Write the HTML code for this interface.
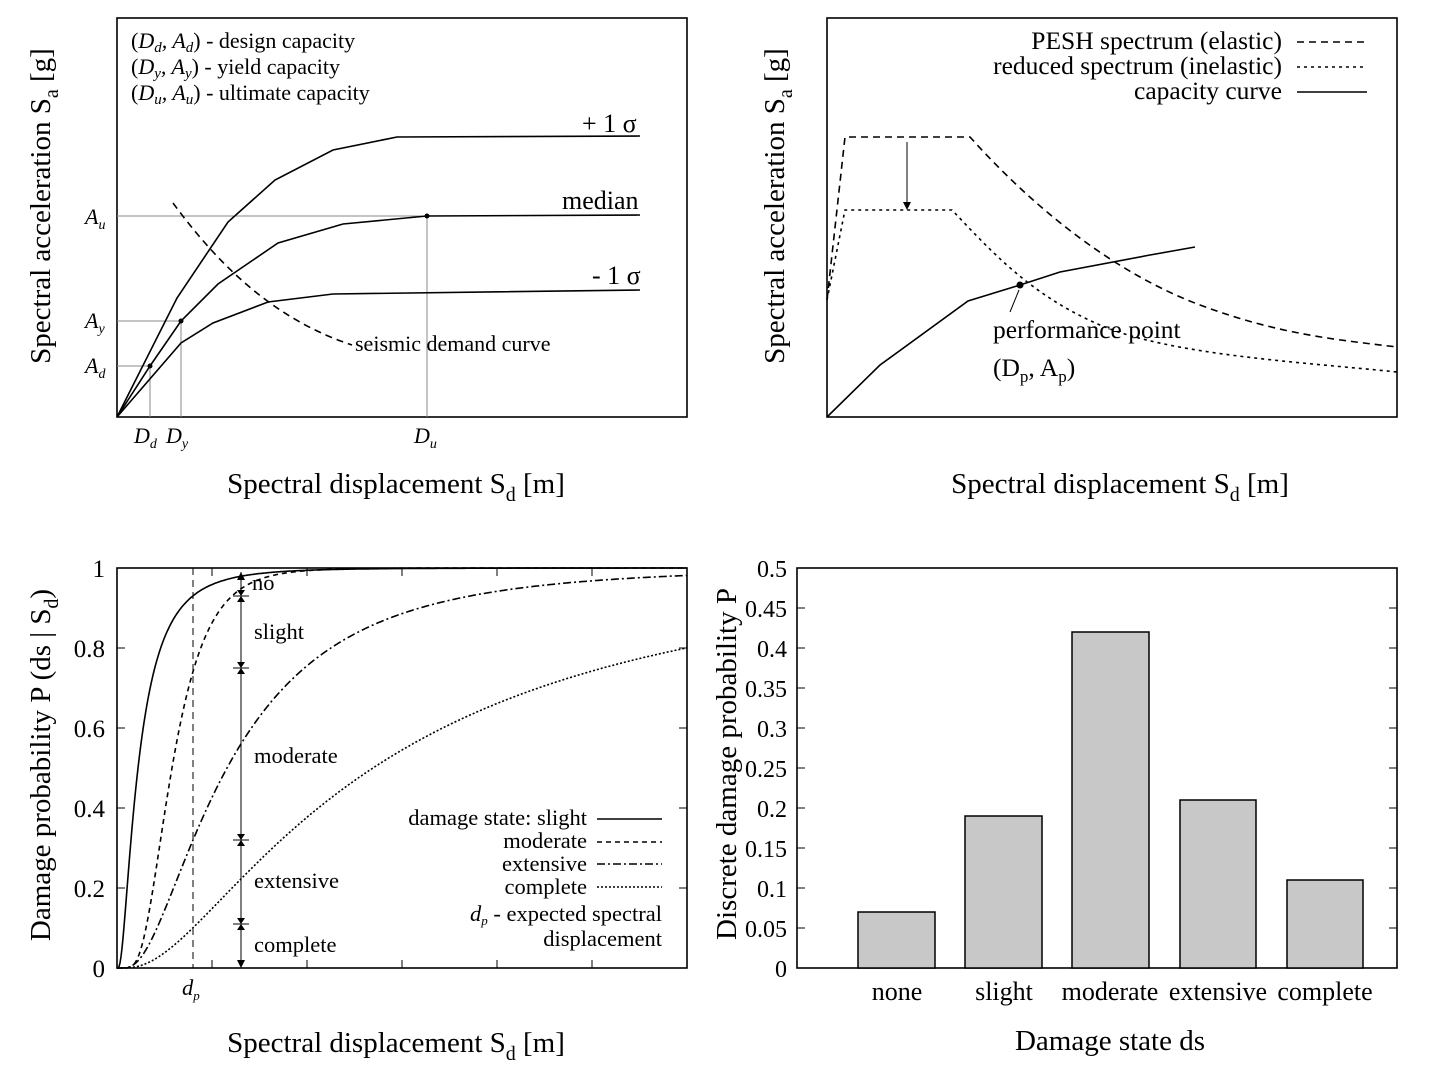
<!DOCTYPE html>
<html><head><meta charset="utf-8"><style>
body{margin:0;background:#fff}
svg{display:block;font-family:"Liberation Serif",serif}
</style></head><body>
<svg id="s" width="1440" height="1080" viewBox="0 0 1440 1080" xmlns="http://www.w3.org/2000/svg">
<g fill="none" stroke="#000" stroke-width="1.6">
<rect x="117" y="18" width="570" height="399"/>
<g stroke="#888" stroke-width="1">
<polyline points="117,216 427,216 427,417"/>
<polyline points="117,321 181,321 181,417"/>
<polyline points="117,366 150,366 150,417"/>
</g>
<polyline points="117,417 177,298 228,222 275,180 333,150 397,137 640,136"/>
<polyline points="117,417 150,366 181,321 218,284 278,243 343,224 427,216 640,215"/>
<polyline points="117,417 181,343 213,323 268,302 333,294 640,290"/>
<path d="M173,203 C215,260 270,318 352,345" stroke-dasharray="7,5"/>
<rect x="827" y="18" width="570" height="399"/>
<path d="M827,300 L845,137 L970,137 C1040,215 1120,275 1200,305 S1340,340 1397,347" stroke-dasharray="7,5"/>
<path d="M827,300 L845,210 L952,210 C990,250 1030,295 1100,325 S1300,362 1397,372" stroke-dasharray="3,4"/>
<polyline points="827,417 880,365 968,301 1020,285 1060,272 1150,255 1195,247"/>
<line x1="907" y1="142" x2="907" y2="204" stroke-width="1"/>
<line x1="1010" y1="312" x2="1019" y2="290" stroke-width="1"/>
<line x1="1297" y1="42" x2="1367" y2="42" stroke-dasharray="7,5"/>
<line x1="1297" y1="67" x2="1367" y2="67" stroke-dasharray="3,4"/>
<line x1="1297" y1="92" x2="1367" y2="92"/>
<rect x="117" y="568" width="570" height="400"/>
<line x1="193" y1="568" x2="193" y2="968" stroke-dasharray="7,5" stroke-width="1"/>
<g id="p3c"></g>
<g stroke-width="1">
<line x1="241" y1="572" x2="241" y2="968"/>
<line x1="233" y1="596" x2="249" y2="596"/><line x1="233" y1="668" x2="249" y2="668"/>
<line x1="233" y1="840" x2="249" y2="840"/><line x1="233" y1="924" x2="249" y2="924"/>
</g>
<line x1="597" y1="819" x2="662" y2="819"/>
<line x1="597" y1="842" x2="662" y2="842" stroke-dasharray="5,4"/>
<line x1="597" y1="864" x2="662" y2="864" stroke-dasharray="8,3,2,3"/>
<line x1="597" y1="887" x2="662" y2="887" stroke-dasharray="2,2"/>
<g id="t3" stroke-width="1"></g>
<rect x="797" y="568" width="600" height="400"/>
<g fill="#c8c8c8" stroke-width="1.5">
<rect x="858" y="912" width="77" height="56"/>
<rect x="965" y="816" width="77" height="152"/>
<rect x="1072" y="632" width="77" height="336"/>
<rect x="1180" y="800" width="76" height="168"/>
<rect x="1287" y="880" width="76" height="88"/>
</g>
<g id="t4" stroke-width="1"></g>
</g>
<g fill="#000" stroke="none">
<circle cx="150" cy="366" r="2.5"/><circle cx="181" cy="321" r="2.5"/><circle cx="427" cy="216" r="2.5"/>
<circle cx="1020" cy="285" r="3.5"/>
<path d="M903,202 L911,202 L907,210Z"/>
<path d="M237,580 L245,580 L241,572Z"/><path d="M237,960 L245,960 L241,968Z"/>
<path d="M237,590 L245,590 L241,596Z"/><path d="M237,602 L245,602 L241,596Z"/>
<path d="M237,662 L245,662 L241,668Z"/><path d="M237,674 L245,674 L241,668Z"/>
<path d="M237,834 L245,834 L241,840Z"/><path d="M237,846 L245,846 L241,840Z"/>
<path d="M237,918 L245,918 L241,924Z"/><path d="M237,930 L245,930 L241,924Z"/>
</g>
<g font-size="22" fill="#000">
<text x="131" y="48">(<tspan font-style="italic">D<tspan font-size="15" dy="4">d</tspan><tspan dy="-4">, A</tspan><tspan font-size="15" dy="4">d</tspan></tspan><tspan dy="-4">) - design capacity</tspan></text>
<text x="131" y="74">(<tspan font-style="italic">D<tspan font-size="15" dy="4">y</tspan><tspan dy="-4">, A</tspan><tspan font-size="15" dy="4">y</tspan></tspan><tspan dy="-4">) - yield capacity</tspan></text>
<text x="131" y="100">(<tspan font-style="italic">D<tspan font-size="15" dy="4">u</tspan><tspan dy="-4">, A</tspan><tspan font-size="15" dy="4">u</tspan></tspan><tspan dy="-4">) - ultimate capacity</tspan></text>
</g>
<g font-size="26" fill="#000">
<text x="582" y="132">+ 1 σ</text>
<text x="562" y="209">median</text>
<text x="592" y="284">- 1 σ</text>
<text x="355" y="351" font-size="22">seismic demand curve</text>
<g font-style="italic" font-size="22">
<text x="85" y="224">A<tspan font-size="14" dy="5">u</tspan></text>
<text x="85" y="328">A<tspan font-size="14" dy="5">y</tspan></text>
<text x="85" y="373">A<tspan font-size="14" dy="5">d</tspan></text>
<text x="134" y="443">D<tspan font-size="14" dy="5">d</tspan></text>
<text x="166" y="443">D<tspan font-size="14" dy="5">y</tspan></text>
<text x="414" y="443">D<tspan font-size="14" dy="5">u</tspan></text>
</g>
<g font-size="25.5">
<text x="1282" y="49" text-anchor="end">PESH spectrum (elastic)</text>
<text x="1282" y="74" text-anchor="end">reduced spectrum (inelastic)</text>
<text x="1282" y="99" text-anchor="end">capacity curve</text>
<text x="993" y="338">performance point</text>
<text x="993" y="376">(D<tspan font-size="17" dy="6">p</tspan><tspan dy="-6">, A</tspan><tspan font-size="17" dy="6">p</tspan><tspan dy="-6">)</tspan></text>
</g>
<g font-size="22.5">
<text x="252" y="590">no</text>
<text x="254" y="639">slight</text>
<text x="254" y="763">moderate</text>
<text x="254" y="888">extensive</text>
<text x="254" y="952">complete</text>
<text x="587" y="825" text-anchor="end">damage state: slight</text>
<text x="587" y="848" text-anchor="end">moderate</text>
<text x="587" y="871" text-anchor="end">extensive</text>
<text x="587" y="894" text-anchor="end">complete</text>
<text x="662" y="921" text-anchor="end"><tspan font-style="italic">d<tspan font-size="13" dy="4">p</tspan></tspan><tspan dy="-4"> - expected spectral</tspan></text>
<text x="662" y="946" text-anchor="end">displacement</text>
<text x="182" y="995" font-style="italic">d<tspan font-size="13" dy="5">p</tspan></text>
</g>
<g text-anchor="middle">
<text x="897" y="1000">none</text><text x="1004" y="1000">slight</text><text x="1110" y="1000">moderate</text><text x="1218" y="1000">extensive</text><text x="1325" y="1000">complete</text>
</g>
<g id="yl3" text-anchor="end"></g>
<g id="yl4" text-anchor="end"></g>
</g>
<g font-size="29" fill="#000" text-anchor="middle">
<text x="396" y="493">Spectral displacement S<tspan font-size="20" dy="8">d</tspan><tspan dy="-8"> [m]</tspan></text>
<text x="1120" y="493">Spectral displacement S<tspan font-size="20" dy="8">d</tspan><tspan dy="-8"> [m]</tspan></text>
<text x="396" y="1052">Spectral displacement S<tspan font-size="20" dy="8">d</tspan><tspan dy="-8"> [m]</tspan></text>
<text x="1110" y="1050">Damage state ds</text>
<text transform="translate(50,206) rotate(-90)">Spectral acceleration S<tspan font-size="20" dy="8">a</tspan><tspan dy="-8"> [g]</tspan></text>
<text transform="translate(784,206) rotate(-90)">Spectral acceleration S<tspan font-size="20" dy="8">a</tspan><tspan dy="-8"> [g]</tspan></text>
<text transform="translate(50,765) rotate(-90)">Damage probability P (ds | S<tspan font-size="20" dy="8">d</tspan><tspan dy="-8">)</tspan></text>
<text transform="translate(736,764) rotate(-90)">Discrete damage probability P</text>
</g>
</svg>
<script>
(function(){
var NS="http://www.w3.org/2000/svg";
function el(t,a,p){var e=document.createElementNS(NS,t);for(var k in a)e.setAttribute(k,a[k]);document.getElementById(p).appendChild(e);return e;}
function erf(x){var s=x<0?-1:1;x=Math.abs(x);var t=1/(1+0.3275911*x);var y=1-(((((1.061405429*t-1.453152027)*t)+1.421413741)*t-0.284496736)*t+0.254829592)*t*Math.exp(-x*x);return s*y;}
function Phi(z){return 0.5*(1+erf(z/Math.SQRT2));}
var cs=[[21,0.87,"none"],[55,0.5,"5,4"],[110,0.79,"8,3,2,3"],[256,0.95,"2,2"]];
cs.forEach(function(c){var d="M117,968";for(var x=118;x<=687;x++){var p=Phi(Math.log((x-117)/c[0])/c[1]);d+=" L"+x+","+(968-400*p).toFixed(1);}
var a={d:d,fill:"none",stroke:"#000","stroke-width":"1.6"};if(c[2]!="none")a["stroke-dasharray"]=c[2];el("path",a,"p3c");});
for(var i=0;i<=5;i++){var y=968-80*i;el("line",{x1:117,y1:y,x2:125,y2:y},"t3");el("line",{x1:679,y1:y,x2:687,y2:y},"t3");
var t=el("text",{x:105,y:y+9,"font-size":"25"},"yl3");t.textContent=i==5?"1":(i==0?"0":(i*0.2).toFixed(1));}
for(var k=1;k<6;k++){var x=117+95*k;el("line",{x1:x,y1:968,x2:x,y2:960},"t3");el("line",{x1:x,y1:568,x2:x,y2:576},"t3");}
for(var i=0;i<=10;i++){var y=968-40*i;el("line",{x1:797,y1:y,x2:805,y2:y},"t4");el("line",{x1:1389,y1:y,x2:1397,y2:y},"t4");
var v=i*0.05;var s=i==0?"0":(i%2==0?String(+v.toFixed(1)):v.toFixed(2));var t=el("text",{x:787,y:y+9,"font-size":"24"},"yl4");t.textContent=s;}
})();
</script>
</body></html>
